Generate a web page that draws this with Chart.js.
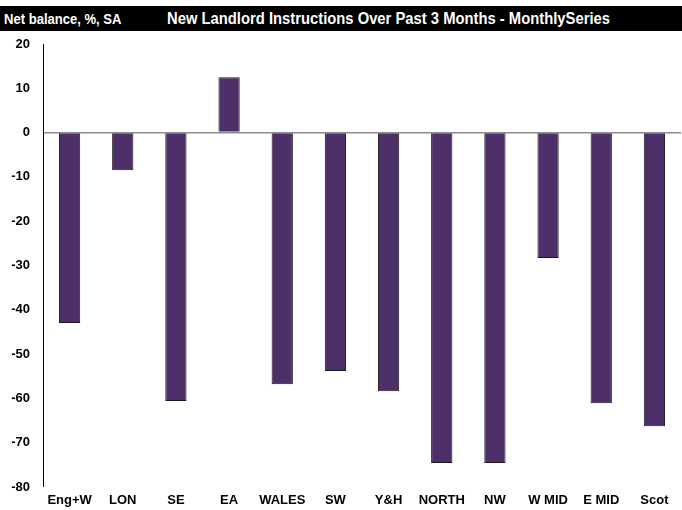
<!DOCTYPE html>
<html>
<head>
<meta charset="utf-8">
<script src="https://cdn.jsdelivr.net/npm/chart.js@4"></script>
<style>
    body { margin: 0; background: #fff; }
    #wrap { position: relative; width: 682px; height: 510px; }
    #header {
        position: absolute; left: 0; top: 6px; width: 682px; height: 25px;
        background: #000; color: #fff;
        font: bold 15px "Liberation Sans Narrow", "Liberation Sans", Arial, sans-serif;
        line-height: 25px; white-space: nowrap;
    }
    #header span { position: absolute; transform: scaleX(0.87); transform-origin: left center; }
    #header .unit { left: 4px; }
    #header .title { left: 167px; font-size: 17px; }
</style>
</head>
<body>
<div id="wrap">
    <canvas id="chart" width="682" height="510"></canvas>
    <div id="header"><span class="unit">Net balance, %, SA</span><span class="title">New Landlord Instructions Over Past 3 Months - MonthlySeries</span></div>
</div>
<script>
const regions = ["Eng+W", "LON", "SE", "EA", "WALES", "SW", "Y&H", "NORTH", "NW", "W MID", "E MID", "Scot"];
const netBalance = [-43, -8.5, -60.6, 12.5, -56.8, -53.8, -58.4, -74.6, -74.6, -28.3, -61.1, -66.3];
const yMin = -80;
const yMax = 20;
const yStep = 10;

const barColor = "#4d2f6a";
const fontFamily = "'Liberation Sans Narrow', 'Liberation Sans', Arial, sans-serif";

const data = {
    labels: regions,
    datasets: [{
        label: "Net balance",
        data: netBalance,
        backgroundColor: barColor,
        borderColor: "#1a1a1a",
        borderWidth: 1,
        categoryPercentage: 1,
        barPercentage: 0.4
    }]
};

const options = {
    responsive: false,
    animation: false,
    layout: { padding: { top: 44, right: 1, left: 0, bottom: 0 } },
    scales: {
        x: {
            grid: { display: false, drawTicks: false },
            border: { display: false },
            afterFit: (scale) => { scale.height = 23; },
            ticks: {
                color: "#000",
                font: { family: fontFamily, size: 13, weight: "bold" },
                maxRotation: 0,
                autoSkip: false,
                padding: 6
            }
        },
        y: {
            min: yMin,
            max: yMax,
            afterFit: (scale) => { scale.width = 43; },
            grid: {
                drawTicks: false,
                color: (ctx) => (ctx.tick && ctx.tick.value === 0 ? "#8c8c8c" : "rgba(0,0,0,0)"),
                lineWidth: (ctx) => (ctx.tick && ctx.tick.value === 0 ? 1.5 : 0)
            },
            border: { display: true, color: "#000", width: 1 },
            ticks: {
                stepSize: yStep,
                color: "#000",
                font: { family: fontFamily, size: 13, weight: "bold" },
                padding: 13
            }
        }
    },
    plugins: {
        legend: { display: false },
        tooltip: { enabled: false }
    }
};

new Chart(document.getElementById("chart"), { type: "bar", data, options });
</script>
</body>
</html>
